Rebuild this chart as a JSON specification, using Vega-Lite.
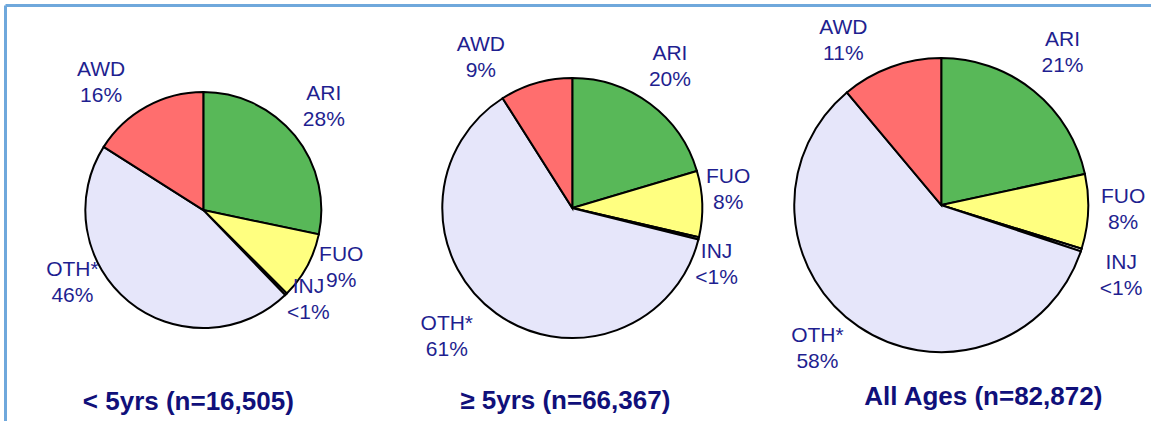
{
  "$schema": "https://vega.github.io/schema/vega-lite/v6.json",
  "width": 1146,
  "height": 416,
  "autosize": {"type": "none"},
  "padding": {"left": 5, "top": 5, "right": 0, "bottom": 0},
  "background": "white",
  "config": {
    "view": {"stroke": null},
    "axis": {"domainColor": "#6fa8dc", "domainWidth": 3, "ticks": false, "labels": false, "grid": false, "title": null},
    "text": {"fontSize": 21, "font": "Liberation Sans", "fill": "#1f1f90", "lineBreak": "\n", "lineHeight": 26, "baseline": "middle", "align": "center"}
  },
  "datasets": {
    "slices": [
      {"panel": "u5", "seq": 1, "cat": "ARI", "pct": 28.3, "shown": "28%"},
      {"panel": "u5", "seq": 2, "cat": "FUO", "pct": 9.2, "shown": "9%"},
      {"panel": "u5", "seq": 3, "cat": "INJ", "pct": 0.3, "shown": "<1%"},
      {"panel": "u5", "seq": 4, "cat": "OTH*", "pct": 46.2, "shown": "46%"},
      {"panel": "u5", "seq": 5, "cat": "AWD", "pct": 16.0, "shown": "16%"},
      {"panel": "o5", "seq": 1, "cat": "ARI", "pct": 20.4, "shown": "20%"},
      {"panel": "o5", "seq": 2, "cat": "FUO", "pct": 8.2, "shown": "8%"},
      {"panel": "o5", "seq": 3, "cat": "INJ", "pct": 0.3, "shown": "<1%"},
      {"panel": "o5", "seq": 4, "cat": "OTH*", "pct": 62.1, "shown": "61%"},
      {"panel": "o5", "seq": 5, "cat": "AWD", "pct": 9.0, "shown": "9%"},
      {"panel": "all", "seq": 1, "cat": "ARI", "pct": 21.6, "shown": "21%"},
      {"panel": "all", "seq": 2, "cat": "FUO", "pct": 8.2, "shown": "8%"},
      {"panel": "all", "seq": 3, "cat": "INJ", "pct": 0.3, "shown": "<1%"},
      {"panel": "all", "seq": 4, "cat": "OTH*", "pct": 58.8, "shown": "58%"},
      {"panel": "all", "seq": 5, "cat": "AWD", "pct": 11.1, "shown": "11%"}
    ],
    "panels": [
      {"panel": "u5", "title": "< 5yrs (n=16,505)"},
      {"panel": "o5", "title": "≥ 5yrs (n=66,367)"},
      {"panel": "all", "title": "All Ages (n=82,872)"}
    ]
  },
  "data": {"name": "slices"},
  "transform": [
    {"window": [{"op": "sum", "field": "pct", "as": "cum"}], "sort": [{"field": "seq", "order": "ascending"}], "groupby": ["panel"]},
    {"calculate": "datum.cum - datum.pct / 2", "as": "mid"},
    {"calculate": "datum.cat + '\\n' + datum.shown", "as": "lbl"}
  ],
  "encoding": {
    "x": {"field": "panel", "type": "nominal", "scale": {"type": "point", "domain": ["u5", "o5", "all"], "padding": 0.553, "align": 0.486}, "axis": {"orient": "top"}}
  },
  "layer": [
    {
      "transform": [{"filter": "datum.panel == 'u5'"}],
      "mark": {"type": "arc", "outerRadius": 118, "stroke": "black", "strokeWidth": 2},
      "encoding": {
        "y": {"datum": 50.7, "type": "quantitative", "scale": {"domain": [0, 100]}, "axis": {"orient": "left"}},
        "theta": {"field": "pct", "type": "quantitative", "stack": true, "scale": {"domain": [0, 100]}},
        "color": {"field": "cat", "type": "nominal", "scale": {"domain": ["ARI", "FUO", "INJ", "OTH*", "AWD"], "range": ["#58b858", "#ffff80", "#ffffff", "#e6e6fa", "#ff6e6e"]}, "legend": null},
        "order": {"field": "seq", "type": "quantitative"}
      }
    },
    {
      "transform": [{"filter": "datum.panel == 'o5'"}],
      "mark": {"type": "arc", "outerRadius": 130, "stroke": "black", "strokeWidth": 2},
      "encoding": {
        "y": {"datum": 51.2, "type": "quantitative", "scale": {"domain": [0, 100]}, "axis": {"orient": "left"}},
        "theta": {"field": "pct", "type": "quantitative", "stack": true, "scale": {"domain": [0, 100]}},
        "color": {"field": "cat", "type": "nominal", "scale": {"domain": ["ARI", "FUO", "INJ", "OTH*", "AWD"], "range": ["#58b858", "#ffff80", "#ffffff", "#e6e6fa", "#ff6e6e"]}, "legend": null},
        "order": {"field": "seq", "type": "quantitative"}
      }
    },
    {
      "transform": [{"filter": "datum.panel == 'all'"}],
      "mark": {"type": "arc", "outerRadius": 147, "stroke": "black", "strokeWidth": 2},
      "encoding": {
        "y": {"datum": 51.9, "type": "quantitative", "scale": {"domain": [0, 100]}, "axis": {"orient": "left"}},
        "theta": {"field": "pct", "type": "quantitative", "stack": true, "scale": {"domain": [0, 100]}},
        "color": {"field": "cat", "type": "nominal", "scale": {"domain": ["ARI", "FUO", "INJ", "OTH*", "AWD"], "range": ["#58b858", "#ffff80", "#ffffff", "#e6e6fa", "#ff6e6e"]}, "legend": null},
        "order": {"field": "seq", "type": "quantitative"}
      }
    },
    {"transform": [{"filter": "datum.panel == 'u5' && datum.cat == 'ARI'"}], "mark": {"type": "text", "radius": 150, "dx": 4, "dy": -22},
     "encoding": {"y": {"datum": 50.7, "type": "quantitative", "scale": {"domain": [0, 100]}}, "theta": {"field": "mid", "type": "quantitative", "stack": null, "scale": {"domain": [0, 100]}}, "text": {"field": "lbl"}}},
    {"transform": [{"filter": "datum.panel == 'u5' && datum.cat == 'FUO'"}], "mark": {"type": "text", "radius": 150, "dx": 6, "dy": -27},
     "encoding": {"y": {"datum": 50.7, "type": "quantitative", "scale": {"domain": [0, 100]}}, "theta": {"field": "mid", "type": "quantitative", "stack": null, "scale": {"domain": [0, 100]}}, "text": {"field": "lbl"}}},
    {"transform": [{"filter": "datum.panel == 'u5' && datum.cat == 'INJ'"}], "mark": {"type": "text", "radius": 150, "dx": 0, "dy": -30},
     "encoding": {"y": {"datum": 50.7, "type": "quantitative", "scale": {"domain": [0, 100]}}, "theta": {"field": "mid", "type": "quantitative", "stack": null, "scale": {"domain": [0, 100]}}, "text": {"field": "lbl"}}},
    {"transform": [{"filter": "datum.panel == 'u5' && datum.cat == 'OTH*'"}], "mark": {"type": "text", "radius": 150, "dx": -36, "dy": -56},
     "encoding": {"y": {"datum": 50.7, "type": "quantitative", "scale": {"domain": [0, 100]}}, "theta": {"field": "mid", "type": "quantitative", "stack": null, "scale": {"domain": [0, 100]}}, "text": {"field": "lbl"}}},
    {"transform": [{"filter": "datum.panel == 'u5' && datum.cat == 'AWD'"}], "mark": {"type": "text", "radius": 150, "dx": -30, "dy": -9},
     "encoding": {"y": {"datum": 50.7, "type": "quantitative", "scale": {"domain": [0, 100]}}, "theta": {"field": "mid", "type": "quantitative", "stack": null, "scale": {"domain": [0, 100]}}, "text": {"field": "lbl"}}},
    {"transform": [{"filter": "datum.panel == 'o5' && datum.cat == 'ARI'"}], "mark": {"type": "text", "radius": 170, "dx": -4, "dy": -18},
     "encoding": {"y": {"datum": 51.2, "type": "quantitative", "scale": {"domain": [0, 100]}}, "theta": {"field": "mid", "type": "quantitative", "stack": null, "scale": {"domain": [0, 100]}}, "text": {"field": "lbl"}}},
    {"transform": [{"filter": "datum.panel == 'o5' && datum.cat == 'FUO'"}], "mark": {"type": "text", "radius": 170, "dx": -14, "dy": -26},
     "encoding": {"y": {"datum": 51.2, "type": "quantitative", "scale": {"domain": [0, 100]}}, "theta": {"field": "mid", "type": "quantitative", "stack": null, "scale": {"domain": [0, 100]}}, "text": {"field": "lbl"}}},
    {"transform": [{"filter": "datum.panel == 'o5' && datum.cat == 'INJ'"}], "mark": {"type": "text", "radius": 170, "dx": -21, "dy": 4},
     "encoding": {"y": {"datum": 51.2, "type": "quantitative", "scale": {"domain": [0, 100]}}, "theta": {"field": "mid", "type": "quantitative", "stack": null, "scale": {"domain": [0, 100]}}, "text": {"field": "lbl"}}},
    {"transform": [{"filter": "datum.panel == 'o5' && datum.cat == 'OTH*'"}], "mark": {"type": "text", "radius": 170, "dx": -26, "dy": -22},
     "encoding": {"y": {"datum": 51.2, "type": "quantitative", "scale": {"domain": [0, 100]}}, "theta": {"field": "mid", "type": "quantitative", "stack": null, "scale": {"domain": [0, 100]}}, "text": {"field": "lbl"}}},
    {"transform": [{"filter": "datum.panel == 'o5' && datum.cat == 'AWD'"}], "mark": {"type": "text", "radius": 170, "dx": -44, "dy": 0},
     "encoding": {"y": {"datum": 51.2, "type": "quantitative", "scale": {"domain": [0, 100]}}, "theta": {"field": "mid", "type": "quantitative", "stack": null, "scale": {"domain": [0, 100]}}, "text": {"field": "lbl"}}},
    {"transform": [{"filter": "datum.panel == 'all' && datum.cat == 'ARI'"}], "mark": {"type": "text", "radius": 190, "dx": 2, "dy": -17},
     "encoding": {"y": {"datum": 51.9, "type": "quantitative", "scale": {"domain": [0, 100]}}, "theta": {"field": "mid", "type": "quantitative", "stack": null, "scale": {"domain": [0, 100]}}, "text": {"field": "lbl"}}},
    {"transform": [{"filter": "datum.panel == 'all' && datum.cat == 'FUO'"}], "mark": {"type": "text", "radius": 190, "dx": -8, "dy": -16},
     "encoding": {"y": {"datum": 51.9, "type": "quantitative", "scale": {"domain": [0, 100]}}, "theta": {"field": "mid", "type": "quantitative", "stack": null, "scale": {"domain": [0, 100]}}, "text": {"field": "lbl"}}},
    {"transform": [{"filter": "datum.panel == 'all' && datum.cat == 'INJ'"}], "mark": {"type": "text", "radius": 190, "dx": -1, "dy": 0},
     "encoding": {"y": {"datum": 51.9, "type": "quantitative", "scale": {"domain": [0, 100]}}, "theta": {"field": "mid", "type": "quantitative", "stack": null, "scale": {"domain": [0, 100]}}, "text": {"field": "lbl"}}},
    {"transform": [{"filter": "datum.panel == 'all' && datum.cat == 'OTH*'"}], "mark": {"type": "text", "radius": 190, "dx": -17, "dy": -26},
     "encoding": {"y": {"datum": 51.9, "type": "quantitative", "scale": {"domain": [0, 100]}}, "theta": {"field": "mid", "type": "quantitative", "stack": null, "scale": {"domain": [0, 100]}}, "text": {"field": "lbl"}}},
    {"transform": [{"filter": "datum.panel == 'all' && datum.cat == 'AWD'"}], "mark": {"type": "text", "radius": 190, "dx": -33, "dy": 1},
     "encoding": {"y": {"datum": 51.9, "type": "quantitative", "scale": {"domain": [0, 100]}}, "theta": {"field": "mid", "type": "quantitative", "stack": null, "scale": {"domain": [0, 100]}}, "text": {"field": "lbl"}}},
    {
      "data": {"name": "panels"},
      "transform": [{"filter": "datum.panel == 'u5'"}],
      "mark": {"type": "text", "fontSize": 26, "fontWeight": "bold", "fill": "#10107a", "dx": -15},
      "encoding": {
        "y": {"datum": 4.57, "type": "quantitative", "scale": {"domain": [0, 100]}},
        "text": {"field": "title"}
      }
    },
    {
      "data": {"name": "panels"},
      "transform": [{"filter": "datum.panel == 'o5'"}],
      "mark": {"type": "text", "fontSize": 26, "fontWeight": "bold", "fill": "#10107a", "dx": -7},
      "encoding": {
        "y": {"datum": 4.8, "type": "quantitative", "scale": {"domain": [0, 100]}},
        "text": {"field": "title"}
      }
    },
    {
      "data": {"name": "panels"},
      "transform": [{"filter": "datum.panel == 'all'"}],
      "mark": {"type": "text", "fontSize": 26, "fontWeight": "bold", "fill": "#10107a", "dx": 42},
      "encoding": {
        "y": {"datum": 5.65, "type": "quantitative", "scale": {"domain": [0, 100]}},
        "text": {"field": "title"}
      }
    }
  ]
}
